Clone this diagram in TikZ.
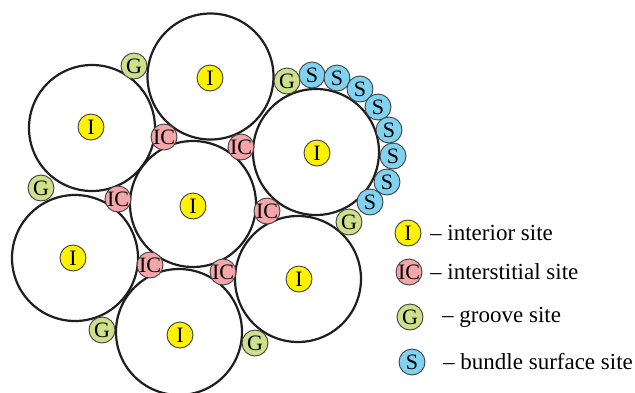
\documentclass[tikz,border=0pt]{standalone}
\usepackage{fontspec}
\setmainfont{Liberation Serif}
\definecolor{colI}{RGB}{255,242,0}
\definecolor{colIC}{RGB}{244,166,170}
\definecolor{colG}{RGB}{206,224,140}
\definecolor{colS}{RGB}{128,210,240}
\begin{document}
\begin{tikzpicture}[x=1pt,y=-1pt,
  tube/.style={circle, draw=black!88, line width=2.2pt, fill=white, minimum size=126pt, inner sep=0pt},
  site/.style={circle, draw=black!75, line width=0.9pt, minimum size=26pt, inner sep=-4pt,
               font=\fontsize{22}{22}\selectfont},
  sI/.style={site, fill=colI},
  sIC/.style={site, fill=colIC},
  sG/.style={site, fill=colG},
  sS/.style={site, fill=colS},
  legtext/.style={anchor=west, inner sep=0pt, font=\fontsize{23}{23}\selectfont}]
\useasboundingbox (0,0) rectangle (635,392);

% tubes of the bundle
\node[tube] (tA) at (210.5,76.5) {};
\node[tube] (tB) at (92,128) {};
\node[tube] (tC) at (193,204) {};
\node[tube] (tD) at (316,152) {};
\node[tube] (tE) at (75,258) {};
\node[tube] (tF) at (179,332) {};
\node[tube] (tG) at (298,279) {};

% interior sites
\node[sI] (iA) at (210,78) {I};
\node[sI] (iB) at (91,127) {I};
\node[sI] (iC) at (193,206) {I};
\node[sI] (iD) at (317,153) {I};
\node[sI] (iE) at (73,258) {I};
\node[sI] (iF) at (180,335) {I};
\node[sI] (iG) at (299,279) {I};

% interstitial sites
\node[sIC] (ic1) at (164,137) {IC};
\node[sIC] (ic2) at (241,147) {IC};
\node[sIC] (ic3) at (118,199) {IC};
\node[sIC] (ic4) at (267,211) {IC};
\node[sIC] (ic5) at (150,265) {IC};
\node[sIC] (ic6) at (223,272) {IC};

% groove sites
\node[sG] (g1) at (134,66) {G};
\node[sG] (g2) at (287,81) {G};
\node[sG] (g3) at (41,188) {G};
\node[sG] (g4) at (349,222) {G};
\node[sG] (g5) at (102,330) {G};
\node[sG] (g6) at (255,343) {G};

% bundle surface sites
\node[sS] (s1) at (312,75) {S};
\node[sS] (s2) at (337,78) {S};
\node[sS] (s3) at (360,89) {S};
\node[sS] (s4) at (378,107) {S};
\node[sS] (s5) at (389,130) {S};
\node[sS] (s6) at (393,156) {S};
\node[sS] (s7) at (387,182) {S};
\node[sS] (s8) at (370,202) {S};

% legend
\node[sI] (lI) at (408,233) {I};
\node[legtext] (tI) at (430,233) {– interior site};
\node[sIC] (lIC) at (409,272) {IC};
\node[legtext] (tIC) at (430,272) {– interstitial site};
\node[sG] (lG) at (410,317) {G};
\node[legtext] (tGr) at (442,317) {– groove site};
\node[sS] (lS) at (412,362) {S};
\node[legtext] (tS) at (443,362) {– bundle surface site};
\end{tikzpicture}
\end{document}
